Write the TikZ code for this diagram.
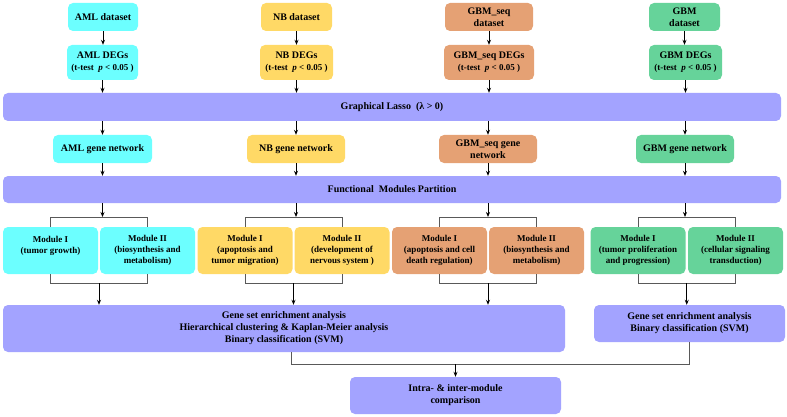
\documentclass[tikz,border=0pt]{standalone}
\usepackage{fontspec}
\setmainfont{Liberation Serif}
\usepackage{xcolor}
\usepackage{tikz}
\usetikzlibrary{arrows.meta, calc}

\definecolor{amlc}{HTML}{6CFFFF}
\definecolor{nbc}{HTML}{FFD966}
\definecolor{gsqc}{HTML}{E5A174}
\definecolor{gbmc}{HTML}{66D39A}
\definecolor{lasc}{HTML}{A3A3FF}

\newcommand{\degnote}{{\fontsize{9}{10}\selectfont (t-test\ \ \textit{p} < 0.05 )}}

\tikzset{
  %% Rounded flow box
  fbox/.style={
    rectangle, rounded corners=5pt,
    draw=none, fill=#1,
    text centered, align=center,
    font=\bfseries\fontsize{10}{12}\selectfont,
    inner sep=2pt
  },
  fbox/.default=lasc,
  %% Module box
  modbox/.style={
    fbox=#1, minimum width=95pt, minimum height=47pt,
    font=\bfseries\fontsize{9}{11}\selectfont
  },
  %% Arrow
  arr/.style={-{Stealth[length=5pt,width=4pt]},
              draw=black, line width=0.8pt},
  %% Bracket line
  brk/.style={draw=black!65, line width=1pt},
}

\begin{document}
\begin{tikzpicture}[x=1pt, y=-1pt]
  \useasboundingbox (0,0) rectangle (787,417);

  %% Datasets
  \node[fbox=amlc, minimum width=70pt, minimum height=28pt] (amlset) at (103,17) {AML dataset};
  \node[fbox=nbc, minimum width=71pt, minimum height=28pt] (nbset) at (296.5,17) {NB dataset};
  \node[fbox=gsqc, minimum width=88pt, minimum height=28pt] (gsqset) at (489,17) {GBM\_seq\\dataset};
  \node[fbox=gbmc, minimum width=71pt, minimum height=28pt] (gbmset) at (684.5,17) {GBM\\dataset};

  %% DEGs
  \node[fbox=amlc, minimum width=71pt, minimum height=35pt] (amldeg) at (102.5,62.5) {AML DEGs\\\degnote};
  \node[fbox=nbc, minimum width=73pt, minimum height=35pt] (nbdeg) at (296.5,62.5) {NB DEGs\\\degnote};
  \node[fbox=gsqc, minimum width=90pt, minimum height=35pt] (gsqdeg) at (489,62.5) {GBM\_seq DEGs\\\degnote};
  \node[fbox=gbmc, minimum width=73pt, minimum height=35pt] (gbmdeg) at (685.5,62.5) {GBM DEGs\\\degnote};

  %% Graphical lasso
  \node[fbox, minimum width=778pt, minimum height=28pt] (lasso) at (392,107) {Graphical Lasso\ \ (λ > 0)};

  %% Gene networks
  \node[fbox=amlc, minimum width=99pt, minimum height=28pt] (amlnet) at (102.5,149) {AML gene network};
  \node[fbox=nbc, minimum width=98pt, minimum height=28pt] (nbnet) at (296,149) {NB gene network};
  \node[fbox=gsqc, minimum width=98pt, minimum height=28pt] (gsqnet) at (488,149) {GBM\_seq gene\\network};
  \node[fbox=gbmc, minimum width=98pt, minimum height=28pt] (gbmnet) at (685,149) {GBM gene network};

  %% Partition
  \node[fbox, minimum width=778pt, minimum height=27pt] (fmp) at (392,189.5) {Functional\ \ Modules Partition};

  %% Modules
  \node[modbox=amlc] (amlm1) at (50.5,250.5) {Module I\\(tumor growth)\\~};
  \node[modbox=amlc] (amlm2) at (147.5,250.5) {Module II\\(biosynthesis and\\metabolism)};
  \node[modbox=nbc] (nbm1) at (245,250.5) {Module I\\(apoptosis and\\tumor migration)};
  \node[modbox=nbc] (nbm2) at (342,250.5) {Module II\\(development of\\nervous system )};
  \node[modbox=gsqc] (gsqm1) at (439.5,250.5) {Module I\\(apoptosis and cell\\death regulation)};
  \node[modbox=gsqc] (gsqm2) at (536.5,250.5) {Module II\\(biosynthesis and\\metabolism)};
  \node[modbox=gbmc] (gbmm1) at (638,250.5) {Module I\\(tumor proliferation\\and progression)};
  \node[modbox=gbmc] (gbmm2) at (735.5,250.5) {Module II\\(cellular signaling\\transduction)};

  %% Analysis
  \node[fbox, minimum width=562pt, minimum height=47pt] (big) at (284,328.5)
       {Gene set enrichment analysis\\Hierarchical clustering \& Kaplan-Meier analysis\\Binary classification (SVM)};
  \node[fbox, minimum width=191pt, minimum height=37pt] (svm) at (689.5,323.5)
       {Gene set enrichment analysis\\Binary classification (SVM)};
  \node[fbox, minimum width=211pt, minimum height=37pt] (intra) at (455.5,395.5)
       {Intra- \& inter-module\\comparison};

  %% Levels of the brackets
  \coordinate (upy) at (0,217);
  \coordinate (lowy) at (0,283);
  \coordinate (mrg) at (0,364);
  \coordinate (amlmid) at ($(amlm1.south)!0.5!(amlm2.south)$);
  \coordinate (nbmid) at ($(nbm1.south)!0.5!(nbm2.south)$);
  \coordinate (gsqmid) at ($(gsqm1.south)!0.5!(gsqm2.south)$);
  \coordinate (gbmmid) at ($(gbmm1.south)!0.5!(gbmm2.south)$);

  %% Column arrows
  \draw[arr] (amlset.south) -- (amlset.south |- amldeg.north);
  \draw[arr] (nbset.south) -- (nbset.south |- nbdeg.north);
  \draw[arr] (gsqset.south) -- (gsqset.south |- gsqdeg.north);
  \draw[arr] (gbmset.south) -- (gbmset.south |- gbmdeg.north);

  \draw[arr] (amldeg.south) -- (amldeg.south |- lasso.north);
  \draw[arr] (nbdeg.south) -- (nbdeg.south |- lasso.north);
  \draw[arr] (gsqdeg.south) -- (gsqdeg.south |- lasso.north);
  \draw[arr] (gbmdeg.south) -- (gbmdeg.south |- lasso.north);

  \draw[arr] (lasso.south -| amlnet) -- (amlnet.north);
  \draw[arr] (lasso.south -| nbnet) -- (nbnet.north);
  \draw[arr] (lasso.south -| gsqnet) -- (gsqnet.north);
  \draw[arr] (lasso.south -| gbmnet) -- (gbmnet.north);

  \draw[arr] (amlnet.south) -- (amlnet.south |- fmp.north);
  \draw[arr] (nbnet.south) -- (nbnet.south |- fmp.north);
  \draw[arr] (gsqnet.south) -- (gsqnet.south |- fmp.north);
  \draw[arr] (gbmnet.south) -- (gbmnet.south |- fmp.north);

  %% Upper brackets
  \draw[brk] (amlm1.north) -- (amlm1.north |- upy) -- (amlm2.north |- upy) -- (amlm2.north);
  \draw[brk] (nbm1.north) -- (nbm1.north |- upy) -- (nbm2.north |- upy) -- (nbm2.north);
  \draw[brk] (gsqm1.north) -- (gsqm1.north |- upy) -- (gsqm2.north |- upy) -- (gsqm2.north);
  \draw[brk] (gbmm1.north) -- (gbmm1.north |- upy) -- (gbmm2.north |- upy) -- (gbmm2.north);
  \draw[arr] (fmp.south -| amlnet) -- (amlnet |- upy);
  \draw[arr] (fmp.south -| nbnet) -- (nbnet |- upy);
  \draw[arr] (fmp.south -| gsqnet) -- (gsqnet |- upy);
  \draw[arr] (fmp.south -| gbmnet) -- (gbmnet |- upy);

  %% Lower brackets
  \draw[brk] (amlm1.south) -- (amlm1.south |- lowy) -- (amlm2.south |- lowy) -- (amlm2.south);
  \draw[brk] (nbm1.south) -- (nbm1.south |- lowy) -- (nbm2.south |- lowy) -- (nbm2.south);
  \draw[brk] (gsqm1.south) -- (gsqm1.south |- lowy) -- (gsqm2.south |- lowy) -- (gsqm2.south);
  \draw[brk] (gbmm1.south) -- (gbmm1.south |- lowy) -- (gbmm2.south |- lowy) -- (gbmm2.south);
  \draw[arr] (amlmid |- lowy) -- (amlmid |- big.north);
  \draw[arr] (nbmid |- lowy) -- (nbmid |- big.north);
  \draw[arr] (gsqmid |- lowy) -- (gsqmid |- big.north);
  \draw[arr] (gbmmid |- lowy) -- (gbmmid |- svm.north);

  %% Merge into comparison
  \draw[brk] ([xshift=7pt]big.south) -- ([xshift=7pt]big.south |- mrg) -- (svm.south |- mrg) -- (svm.south);
  \draw[arr] (intra.north |- mrg) -- (intra.north);

\end{tikzpicture}
\end{document}
